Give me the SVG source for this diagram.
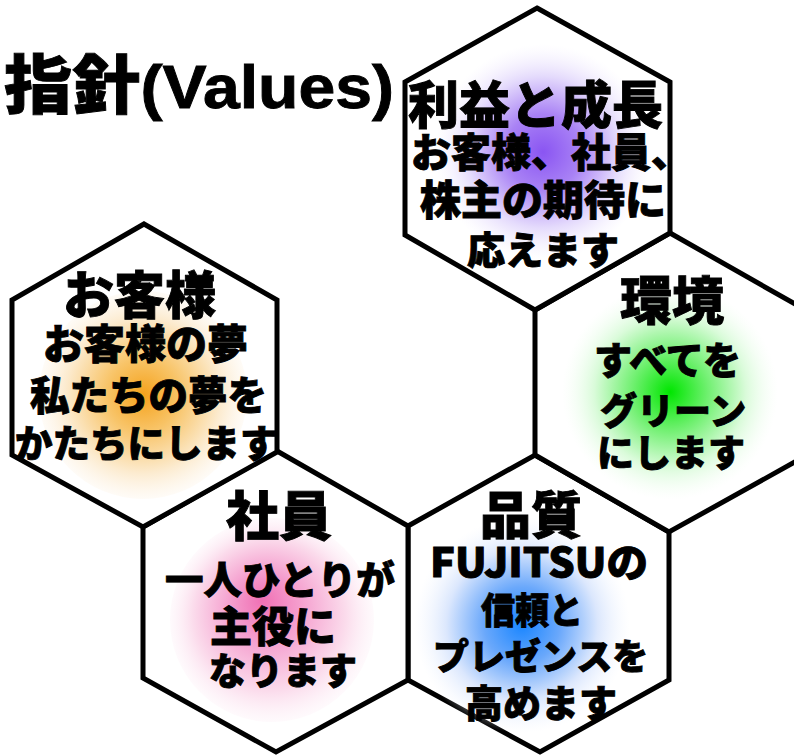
<svg xmlns="http://www.w3.org/2000/svg" width="794" height="755" viewBox="0 0 794 755">
<defs>
<style>
.hex{fill:#fff;stroke:#000;stroke-width:5;stroke-linejoin:miter}
text{font-family:"Noto Sans CJK JP","Noto Sans CJK SC",sans-serif;font-weight:900;fill:#000;stroke:#000;stroke-width:0.9}
.lat{font-family:"Liberation Sans","Noto Sans CJK JP",sans-serif;font-weight:700}
</style>
<radialGradient id="gPurple" cx="0.5" cy="0.5" r="0.5">
<stop offset="0" stop-color="#8a55f2"/><stop offset="0.35" stop-color="#a982f5"/><stop offset="0.7" stop-color="#e4dafc"/><stop offset="1" stop-color="#f4f0fe" stop-opacity="0"/>
</radialGradient>
<radialGradient id="gOrange" cx="0.5" cy="0.5" r="0.5">
<stop offset="0" stop-color="#f5a21c"/><stop offset="0.35" stop-color="#f8c468"/><stop offset="0.75" stop-color="#fcebcf"/><stop offset="1" stop-color="#fdf3e4" stop-opacity="0.3"/>
</radialGradient>
<radialGradient id="gGreen" cx="0.5" cy="0.5" r="0.5">
<stop offset="0" stop-color="#00e600"/><stop offset="0.35" stop-color="#70f070"/><stop offset="0.7" stop-color="#d9fbd9"/><stop offset="1" stop-color="#f3fef3" stop-opacity="0"/>
</radialGradient>
<radialGradient id="gPink" cx="0.5" cy="0.5" r="0.5" fx="0.45" fy="0.4">
<stop offset="0" stop-color="#f070b4"/><stop offset="0.35" stop-color="#f5a0cf"/><stop offset="0.75" stop-color="#fbdcec"/><stop offset="1" stop-color="#fdeef6" stop-opacity="0.3"/>
</radialGradient>
<radialGradient id="gBlue" cx="0.5" cy="0.5" r="0.5">
<stop offset="0" stop-color="#1a86ff"/><stop offset="0.35" stop-color="#6aa8fb"/><stop offset="0.7" stop-color="#dbe7fd"/><stop offset="1" stop-color="#f2f6fe" stop-opacity="0"/>
</radialGradient>
</defs>
<rect width="794" height="755" fill="#fff"/>
<g id="connectors"/>
<text id="title" x="4" y="108" font-size="64" textLength="390" lengthAdjust="spacingAndGlyphs">指針<tspan class="lat" font-size="62">(Values)</tspan></text>
<g id="node-quality">
<polygon class="hex" points="535,455 669,532 669,680 540,752 408,680 408,526"/>
<circle cx="522" cy="625" r="108" fill="url(#gBlue)"/>
<text x="480" y="534" font-size="51">品質</text>
<text x="430" y="577" font-size="40" textLength="218" lengthAdjust="spacingAndGlyphs">FUJITSUの</text>
<text x="481" y="624" font-size="36" textLength="102" lengthAdjust="spacingAndGlyphs">信頼と</text>
<text x="433" y="670" font-size="36">プレゼンスを</text>
<text x="465" y="717" font-size="38">高めます</text>
</g>
<g id="node-employee">
<polygon class="hex" points="277,451 408,526 408,680 276,752 143,678 143,527"/>
<circle cx="272" cy="620" r="102" fill="url(#gPink)"/>
<text x="226" y="536" font-size="53">社員</text>
<text x="165" y="594" font-size="38.5">一人ひとりが</text>
<text x="210" y="642" font-size="42">主役に</text>
<text x="209" y="685" font-size="37">なります</text>
</g>
<g id="node-environment">
<polygon class="hex" points="670,233 802,308 802,458 669,532 535,455 535,310"/>
<circle cx="670" cy="392" r="108" fill="url(#gGreen)"/>
<text x="620" y="320" font-size="52">環境</text>
<text x="594" y="374" font-size="38">すべてを</text>
<text x="600" y="425" font-size="37">グリーン</text>
<text x="597" y="467" font-size="37">にします</text>
</g>
<g id="node-customer">
<polygon class="hex" points="144,224 277,300 277,452 143,527 12,455 12,300"/>
<circle cx="143" cy="395" r="104" fill="url(#gOrange)"/>
<text x="63" y="314" font-size="51">お客様</text>
<text x="43" y="359" font-size="41">お客様の夢</text>
<text x="30" y="410" font-size="39.5">私たちの夢を</text>
<text x="15" y="457" font-size="37.5">かたちにします</text>
</g>
<g id="node-profit">
<polygon class="hex" points="537,8 670,82 670,233 535,310 405,235 405,82"/>
<circle cx="543" cy="152" r="108" fill="url(#gPurple)"/>
<text x="408" y="124" font-size="51">利益と成長</text>
<text x="411" y="167" font-size="40">お客様、社員、</text>
<text x="420" y="215" font-size="41">株主の期待に</text>
<text x="467" y="264" font-size="38">応えます</text>
</g>
</svg>
